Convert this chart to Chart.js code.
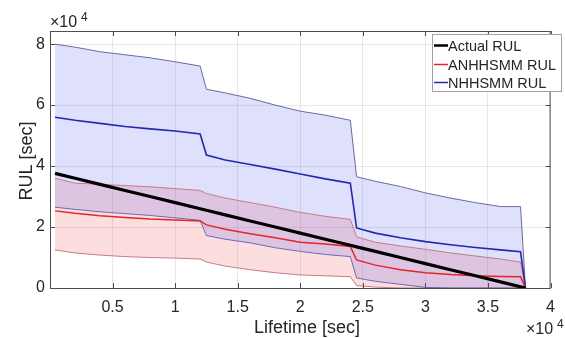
<!DOCTYPE html>
<html>
<head>
    <meta charset="UTF-8">
    <title>RUL vs Lifetime</title>
    <script src="https://cdn.jsdelivr.net/npm/chart.js@4.4.1/dist/chart.umd.min.js"></script>
    <style>
        body { margin: 0; background: #fff; }
        #rulChart { display: block; }
    </style>
</head>
<body>
<canvas id="rulChart" width="565" height="338"></canvas>
<script>
// Data (sec)
const lifetime  = [400, 2000, 4000, 6000, 8000, 10000, 12000, 12500, 14000, 16000, 18000, 20000, 22000, 24000, 24500, 26000, 28000, 30000, 32000, 34000, 36000, 37600, 38000];
const actualRul = [37600, 36000, 34000, 32000, 30000, 28000, 26000, 25500, 24000, 22000, 20000, 18000, 16000, 14000, 13500, 12000, 10000, 8000, 6000, 4000, 2000, 400, 0];
const anMean    = [25300, 24500, 23700, 23100, 22600, 22300, 22000, 20700, 19300, 17800, 16500, 15000, 14400, 13600, 9200, 7500, 6000, 5000, 4400, 4000, 3800, 3700, 0];
const anUpper   = [36000, 34400, 34000, 33600, 33200, 32600, 32000, 31000, 29500, 28000, 26500, 24800, 23500, 22500, 16800, 15000, 13800, 12700, 11500, 10500, 9500, 8500, 0];
const anLower   = [12500, 11500, 10800, 10300, 10000, 9800, 9500, 8500, 7200, 6000, 5000, 4300, 4000, 3700, 800, 300, 0, 0, 0, 0, 0, 0, 0];
const nhMean    = [56000, 55000, 54000, 53000, 52200, 51500, 50500, 43600, 42000, 40500, 39000, 37400, 35800, 34400, 19700, 18000, 16500, 15200, 14200, 13300, 12500, 11900, 0];
const nhUpper   = [80000, 79000, 77500, 76500, 75500, 74200, 72800, 65200, 64000, 62200, 60000, 58000, 56700, 55000, 36500, 35000, 33300, 31200, 29500, 28000, 26700, 26700, 0];
const nhLower   = [26500, 25800, 25000, 24400, 23800, 23000, 22200, 17200, 16000, 14800, 13200, 12000, 11000, 10300, 3300, 2200, 1200, 200, 0, 0, 0, 0, 0];
const xTicks = [0, 5000, 10000, 15000, 20000, 25000, 30000, 35000, 40000];
const yTicks = [0, 20000, 40000, 60000, 80000];

const pts = arr => arr.map((v, i) => ({x: lifetime[i], y: v}));
const txt = '#262626';
const font = '"Liberation Sans", Arial, sans-serif';

// axis box, inward ticks, exponent labels, axis titles and legend
const matlabLook = {
    id: 'matlabLook',
    afterDraw(chart) {
        const c = chart.ctx, a = chart.chartArea;
        const xs = chart.scales.x, ys = chart.scales.y;
        c.save();
        c.strokeStyle = '#4d4d4d';
        c.lineWidth = 1;
        c.strokeRect(a.left + 0.5, a.top + 0.5, a.right - a.left - 1, a.bottom - a.top);
        c.beginPath();
        xTicks.forEach(v => {
            const px = Math.round(xs.getPixelForValue(v)) + 0.5;
            c.moveTo(px, a.bottom); c.lineTo(px, a.bottom - 5);
            c.moveTo(px, a.top); c.lineTo(px, a.top + 5);
        });
        yTicks.forEach(v => {
            const py = Math.round(ys.getPixelForValue(v)) + 0.5;
            c.moveTo(a.left, py); c.lineTo(a.left + 5, py);
            c.moveTo(a.right, py); c.lineTo(a.right - 5, py);
        });
        c.stroke();

        c.fillStyle = txt;
        c.textBaseline = 'alphabetic';
        c.textAlign = 'left';
        c.font = '16px ' + font;
        c.fillText('\u00d710', 50, 27);
        c.fillText('\u00d710', 526, 334);
        c.font = '12px ' + font;
        c.fillText('4', 81, 21);
        c.fillText('4', 557, 328);

        c.font = '18px ' + font;
        c.textAlign = 'center';
        c.fillText('Lifetime [sec]', 307, 333);
        c.save();
        c.translate(32, 161);
        c.rotate(-Math.PI / 2);
        c.fillText('RUL [sec]', 0, 0);
        c.restore();

        // legend
        const lx = 432, ly = 34, lw = 130, lh = 58;
        c.fillStyle = '#fff';
        c.fillRect(lx, ly, lw, lh);
        c.strokeStyle = '#a0a0a0';
        c.lineWidth = 1;
        c.strokeRect(lx + 0.5, ly + 0.5, lw - 1, lh - 1);
        c.textAlign = 'left';
        c.textBaseline = 'middle';
        c.font = '14.5px ' + font;
        [0, 1, 2].forEach((k, i) => {
            const ds = chart.data.datasets[k];
            const y = Math.round(ly + 11 + i * 18.5) + 0.5;
            c.strokeStyle = ds.borderColor;
            c.lineWidth = k === 0 ? 2.5 : 1.5;
            c.beginPath(); c.moveTo(lx + 2, y); c.lineTo(lx + 16, y); c.stroke();
            c.fillStyle = txt;
            c.fillText(ds.label, lx + 16, y + 1);
        });
        c.restore();
    }
};

new Chart(document.getElementById('rulChart'), {
    type: 'line',
    data: {
        datasets: [
            {label: 'Actual RUL', data: pts(actualRul), borderColor: '#000000', borderWidth: 3.2, fill: false},
            {label: 'ANHHSMM RUL', data: pts(anMean), borderColor: '#e4252b', borderWidth: 1.5, fill: false},
            {label: 'NHHSMM RUL', data: pts(nhMean), borderColor: '#2428b0', borderWidth: 1.6, fill: false},
            {label: 'nh upper', data: pts(nhUpper), borderColor: '#6a6aa0', borderWidth: 1, fill: {target: 4}, backgroundColor: 'rgba(60,70,240,0.17)'},
            {label: 'nh lower', data: pts(nhLower), borderColor: '#6a6ab8', borderWidth: 1, fill: false},
            {label: 'an upper', data: pts(anUpper), borderColor: '#c87a86', borderWidth: 1, fill: {target: 6}, backgroundColor: 'rgba(245,60,60,0.17)'},
            {label: 'an lower', data: pts(anLower), borderColor: '#c87a86', borderWidth: 1, fill: false}
        ]
    },
    options: {
        responsive: false,
        animation: false,
        layout: { padding: { top: 31, right: 3, left: 0, bottom: 0 } },
        elements: { point: { radius: 0 }, line: { tension: 0 } },
        plugins: {
            legend: { display: false },
            tooltip: { enabled: false },
            filler: { drawTime: 'beforeDatasetsDraw' }
        },
        scales: {
            x: {
                type: 'linear', min: 0, max: 40000,
                afterFit: s => { s.height = 50; },
                afterBuildTicks: s => { s.ticks = xTicks.map(v => ({value: v})); },
                grid: { color: 'rgba(0,0,0,0.09)', drawTicks: false },
                border: { display: false },
                ticks: {
                    padding: 10, color: txt, font: { size: 16, family: font },
                    maxRotation: 0, autoSkip: false,
                    callback: v => v === 0 ? '' : String(v / 10000)
                }
            },
            y: {
                type: 'linear', min: 0, max: 84300,
                afterFit: s => { s.width = 50; },
                afterBuildTicks: s => { s.ticks = yTicks.map(v => ({value: v})); },
                grid: { color: 'rgba(0,0,0,0.09)', drawTicks: false },
                border: { display: false },
                ticks: {
                    padding: 5, color: txt, font: { size: 16, family: font },
                    callback: v => String(v / 10000)
                }
            }
        }
    },
    plugins: [matlabLook]
});
</script>
</body>
</html>
